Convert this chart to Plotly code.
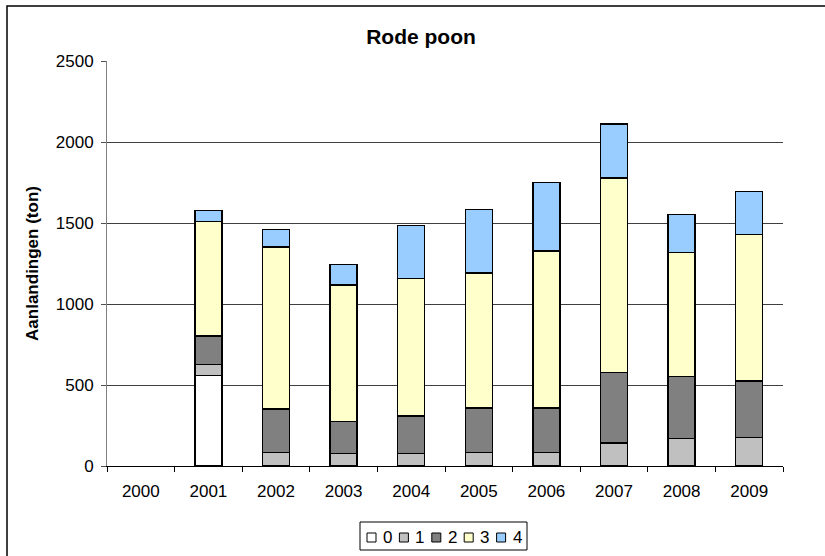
import plotly.graph_objects as go

# Landings of red gurnard (Rode poon) per year, split by age class.
# No landings were recorded for 2000; age class 0 only appears in 2001.
years = ["2000", "2001", "2002", "2003", "2004", "2005", "2006", "2007", "2008", "2009"]
age_0 = [None, 559, None, None, None, None, None, None, None, None]
age_1 = [None, 68, 84, 76, 76, 84, 84, 142, 170, 177]
age_2 = [None, 174, 267, 199, 234, 275, 275, 435, 381, 349]
age_3 = [None, 707, 1001, 843, 847, 832, 968, 1200, 768, 902]
age_4 = [None, 68, 109, 125, 328, 391, 423, 333, 234, 265]

series = [
    ("0", age_0, "#FFFFFF"),
    ("1", age_1, "#C0C0C0"),
    ("2", age_2, "#808080"),
    ("3", age_3, "#FFFFCC"),
    ("4", age_4, "#99CCFF"),
]

FONT = "Liberation Sans, Arial, sans-serif"
W, H = 825, 556
ML, MR, MT, MB = 107, 42, 61, 90
PW, PH = W - ML - MR, H - MT - MB


def px_x(x):
    """Pixel column -> paper x coordinate."""
    return (x - ML) / PW


def px_y(y):
    """Pixel row -> paper y coordinate."""
    return (H - MB - y) / PH


fig = go.Figure()
for name, vals, color in series:
    fig.add_trace(go.Bar(
        x=years, y=vals, name=name, showlegend=False,
        marker=dict(color=color, line=dict(color="#000000", width=1.5)),
    ))

shapes = [
    # chart-area frame
    dict(type="rect", xref="paper", yref="paper",
         x0=px_x(7), x1=px_x(W + 20), y0=px_y(H + 20), y1=px_y(6),
         line=dict(color="#000000", width=1.5), layer="below"),
    # legend box
    dict(type="rect", xref="paper", yref="paper",
         x0=px_x(360), x1=px_x(527), y0=px_y(550), y1=px_y(522),
         line=dict(color="#000000", width=1), fillcolor="white"),
]
annotations = []

# legend entries: small swatch followed by the series name
key_x0, key_step, key_size, key_cy = 367, 32.4, 9, 537.5
for i, (name, _, color) in enumerate(series):
    sx = key_x0 + i * key_step
    shapes.append(dict(type="rect", xref="paper", yref="paper",
                       x0=px_x(sx), x1=px_x(sx + key_size),
                       y0=px_y(key_cy + key_size / 2), y1=px_y(key_cy - key_size / 2),
                       line=dict(color="#000000", width=1), fillcolor=color))
    annotations.append(dict(xref="paper", yref="paper", showarrow=False,
                            x=px_x(sx + key_size + 5), y=px_y(key_cy),
                            xanchor="left", yanchor="middle", text=name,
                            font=dict(family=FONT, size=17, color="#000000")))

fig.update_layout(
    barmode="stack",
    bargap=0.6,
    width=W, height=H,
    margin=dict(l=ML, r=MR, t=MT, b=MB),
    paper_bgcolor="white",
    plot_bgcolor="white",
    font=dict(family=FONT, size=17, color="#000000"),
    title=dict(text="<b>Rode poon</b>", x=421 / W, xanchor="center",
               y=1 - 37 / H, yanchor="middle",
               font=dict(family=FONT, size=21, color="#000000")),
    showlegend=False,
    xaxis=dict(
        showline=True, linecolor="#000000", linewidth=1,
        ticks="outside", ticklen=5, tickcolor="#000000",
        showgrid=False, tickson="boundaries",
        ticklabelstandoff=10,
        tickfont=dict(family=FONT, size=17),
    ),
    yaxis=dict(
        range=[0, 2500], dtick=500,
        showline=True, linecolor="#808080", linewidth=1,
        ticks="outside", ticklen=5, tickcolor="#505050",
        showgrid=True, gridcolor="#404040", gridwidth=1,
        zeroline=False, ticklabelstandoff=4,
        tickfont=dict(family=FONT, size=17),
        title=dict(text="<b>Aanlandingen (ton)</b>",
                   font=dict(family=FONT, size=17), standoff=12),
    ),
    shapes=shapes,
    annotations=annotations,
)

fig.write_html("out.html")
